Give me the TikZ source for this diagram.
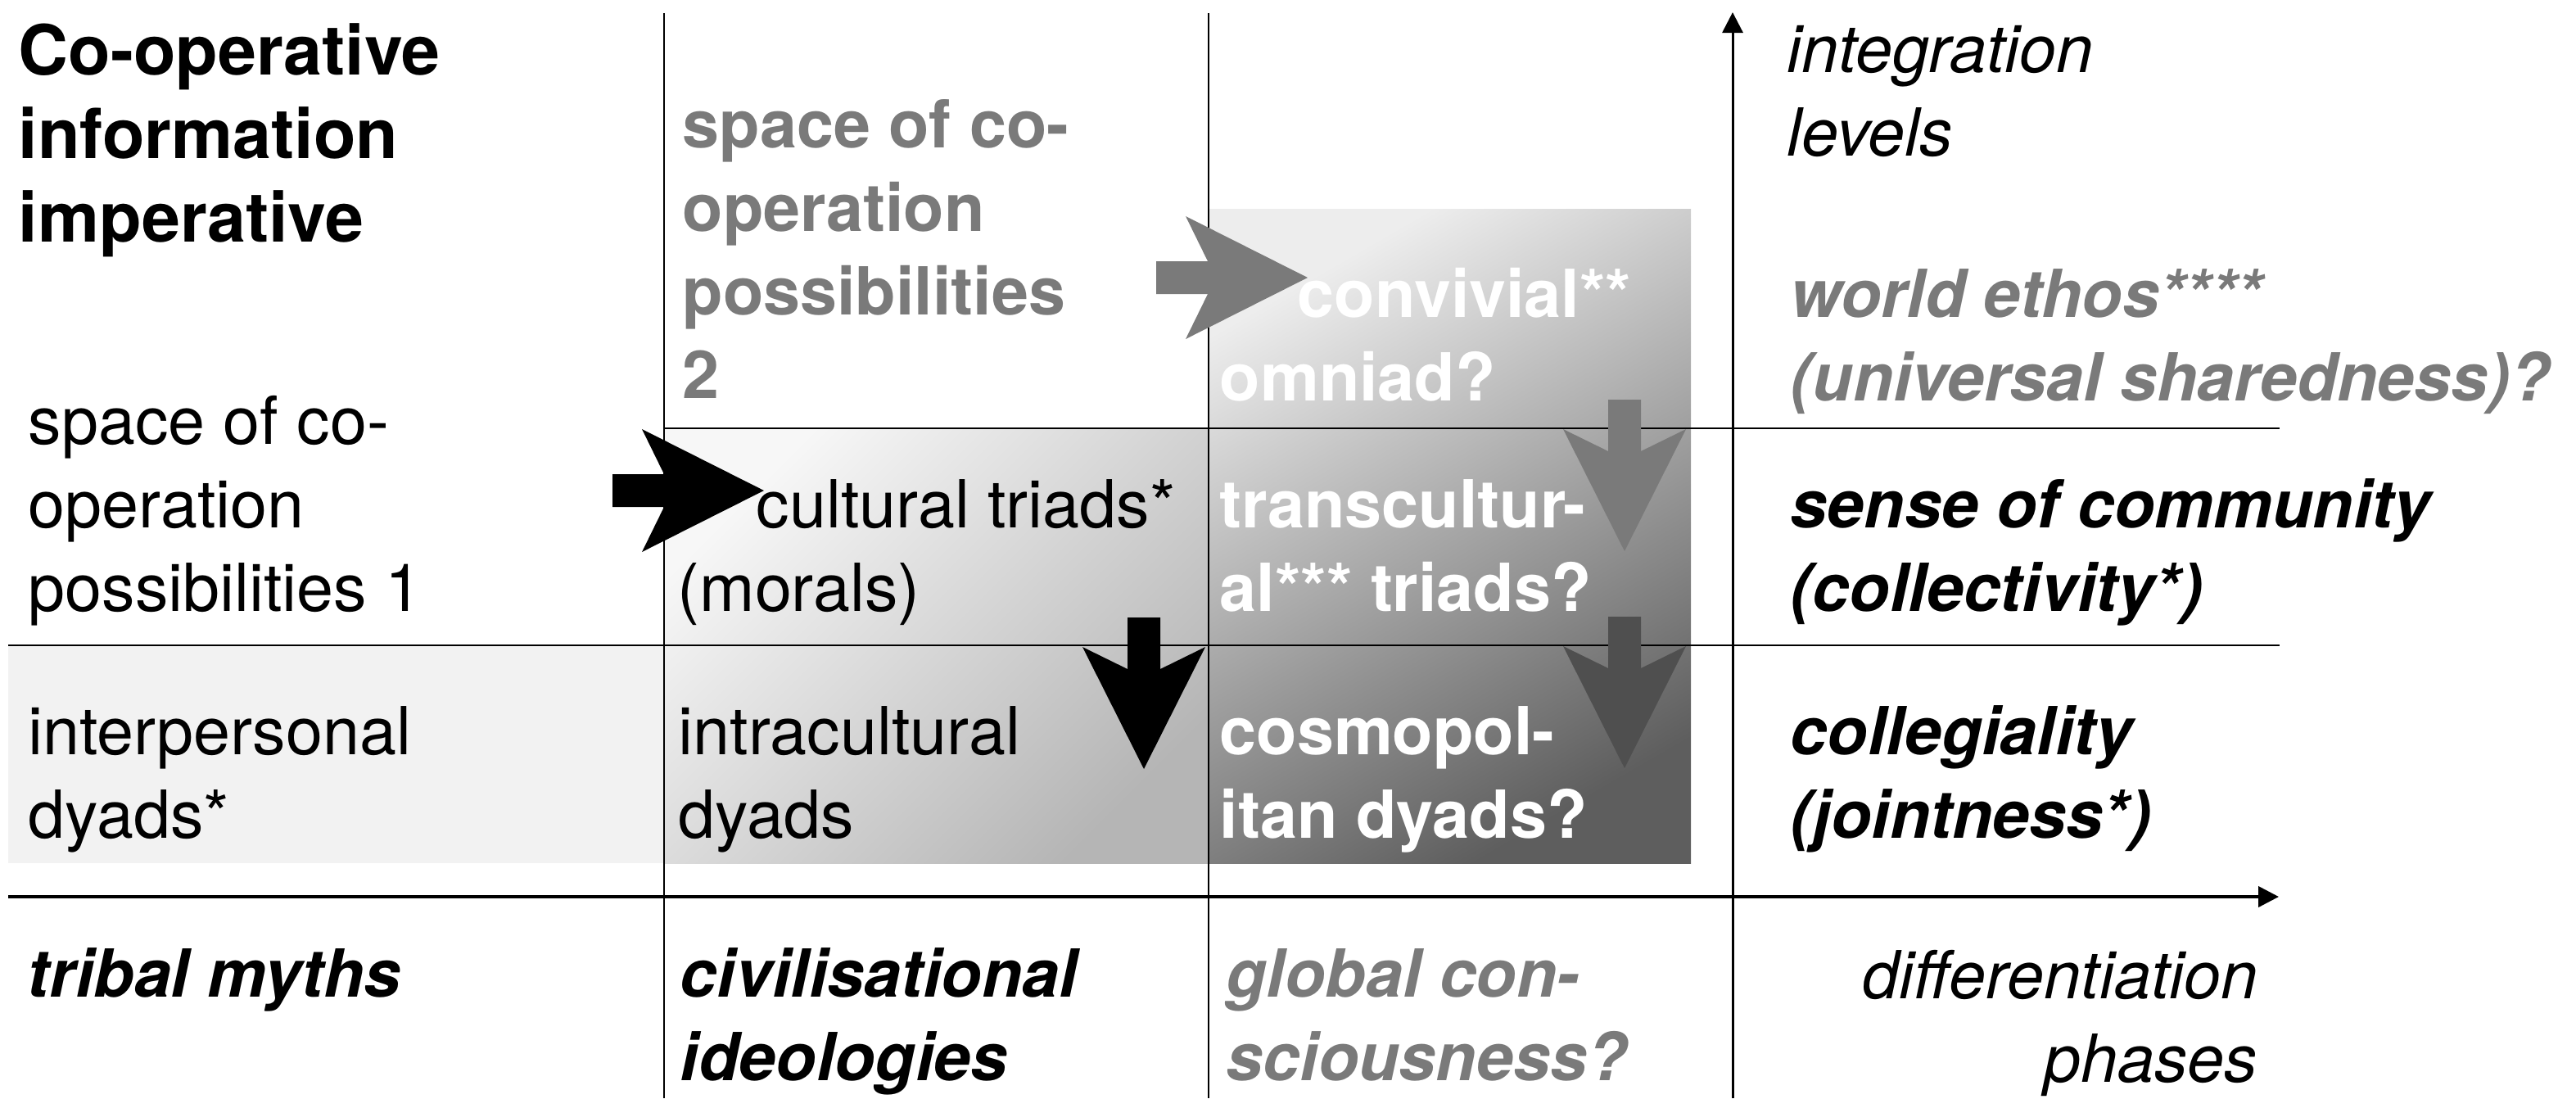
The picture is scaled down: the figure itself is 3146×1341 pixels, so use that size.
\documentclass[tikz,border=0pt]{standalone}
\usepackage{fontspec}
\setmainfont{TeX Gyre Heros}
\usetikzlibrary{arrows.meta}

% tonos de gris
\definecolor{txtgray}{gray}{0.48}
\definecolor{arrowgray}{gray}{0.48}
\definecolor{arrowdark}{gray}{0.31}
\definecolor{boxpale}{gray}{0.95}
\definecolor{boxlight}{gray}{0.97}
\definecolor{boxmid}{gray}{0.71}
\definecolor{boxtop}{gray}{0.93}
\definecolor{boxdark}{gray}{0.37}

\begin{document}
\begin{tikzpicture}[
	x = 0.01cm, y = -0.01cm,
	% el ancla base es la línea base de la última línea
	txt/.style = {inner sep = 0, anchor = base west, align = left,
		font = \fontsize{23}{29}\selectfont},
	txt b/.style = {txt, font = \fontsize{23}{29}\selectfont\bfseries},
	txt i/.style = {txt, font = \fontsize{23}{29}\selectfont\itshape},
	txt bi/.style = {txt, font = \fontsize{23}{29}\selectfont\bfseries\itshape},
	grid line/.style = {line width = 0.6pt},
	axis/.style = {-{Triangle[length = 2.5mm, width = 2.5mm]}},
	pics/blockarrow/.style = {
		code = {
			\fill[pic actions]
				(0,0) -- (-149,-75) -- (-122,-20) -- (-185,-20)
				-- (-185,20) -- (-122,20) -- (-149,75) -- cycle;
		}
	},
]

	% márgenes del dibujo
	\useasboundingbox (0,0) rectangle (3146,1341);

	% coordenadas importantes
	\coordinate (O) at (2116,1095);
	\coordinate (Xa) at (10,1095);
	\coordinate (Xb) at (2783,1095);
	\coordinate (Ya) at (2116,1341);
	\coordinate (Yb) at (2116,15);

	% fondos
	\fill[boxpale] (10,788) rectangle (811,1054);
	\shade[top color = boxlight, bottom color = boxmid, shading angle = 45]
		(811,523) rectangle (1476,1054);
	\shade[top color = boxtop, bottom color = boxdark, shading angle = 30]
		(1476,255) rectangle (2065,1054);

	% rejilla
	\foreach \x in {811,1476}
		\draw[grid line] (\x,16) -- (\x,1341);
	\draw[grid line] (811,523) -- (2784,523);
	\draw[grid line] (10,788) -- (2784,788);

	% ejes
	\draw[axis, line width = 1.1pt] (Xa) -- (Xb);
	\draw[axis, line width = 0.85pt] (Ya) -- (Yb);

	% flechas
	\pic[fill = black] at (933,599) {blockarrow};
	\pic[fill = arrowgray] at (1597,339) {blockarrow};
	\pic[fill = black, rotate = -90] at (1397,939) {blockarrow};
	\pic[fill = arrowgray, rotate = -90] at (1984,673) {blockarrow};
	\pic[fill = arrowdark, rotate = -90] at (1984,938) {blockarrow};

	% primera columna
	\node[txt b, font = \fontsize{24}{29}\selectfont\bfseries] (title)
		at (22,295) {Co-operative\\information\\imperative};
	\node[txt] (space1) at (34,746) {space of co-\\operation\\possibilities 1};
	\node[txt] (interp) at (34,1023) {interpersonal\\dyads*};
	\node[txt bi] (tribal) at (33,1217) {tribal myths};

	% segunda columna
	\node[txt b, txtgray] (space2)
		at (833,486) {space of co-\\operation\\possibilities\\2};
	\node[txt] (cultural)
		at (827,746) {\hspace*{0.96cm}cultural triads*\\(morals)};
	\node[txt] (intra) at (828,1023) {intracultural\\dyads};
	\node[txt bi] (civil) at (830,1319) {civilisational\\ideologies};

	% tercera columna
	\node[txt b, white] (convivial)
		at (1489,489) {\hspace*{0.95cm}convivial**\\omniad?};
	\node[txt b, white] (transc) at (1489,746) {transcultur-\\al*** triads?};
	\node[txt b, white] (cosmo) at (1489,1023) {cosmopol-\\itan dyads?};
	\node[txt bi, txtgray] (global) at (1497,1319) {global con-\\sciousness?};

	% niveles de integración
	\node[txt i] (integ) at (2182,190) {integration\\levels};
	\node[txt bi, txtgray] (world)
		at (2186,489) {world ethos****\\(universal sharedness)?};
	\node[txt bi] (sense) at (2186,746) {sense of community\\(collectivity*)};
	\node[txt bi] (colleg) at (2186,1023) {collegiality\\(jointness*)};

	% fases de diferenciación
	\node[txt i, anchor = base east, align = right] (diff)
		at (2758,1321) {differentiation\\phases};

\end{tikzpicture}
\end{document}
